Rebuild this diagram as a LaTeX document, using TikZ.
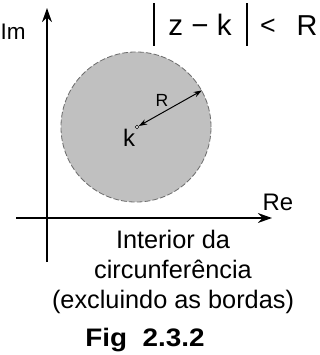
\documentclass[tikz,border=0pt]{standalone}
\usepackage{fontspec}
\usepackage{graphicx}
\setmainfont{Liberation Sans}
\usetikzlibrary{arrows.meta,positioning}
\definecolor{DiskFill}{HTML}{C0C0C0}
\definecolor{DiskEdge}{HTML}{6E6E6E}
\tikzset{
  axis/.style={-{Stealth[length=10pt,width=7pt]}, line width=1.4pt, draw=black},
  disk/.style={
    circle, fill=DiskFill, draw=DiskEdge, dash pattern=on 4pt off 1.6pt,
    line width=0.6pt, minimum size=3.75cm, inner sep=0pt
  },
  centre/.style={
    circle, draw=black, fill=white, line width=0.4pt,
    minimum size=2.4pt, inner sep=0pt
  },
  radius arrow/.style={{Stealth[length=6pt,width=4pt]}-{Stealth[length=6pt,width=4pt]}, line width=0.7pt},
  bar/.style={line width=1.1pt},
  lbl/.style={inner sep=0pt, font=\fontsize{16}{18}\selectfont}
}
\begin{document}
\begin{tikzpicture}[x=0.025cm,y=-0.025cm]
  \useasboundingbox (0,0) rectangle (320,355);
  % axes
  \coordinate (o_bot) at (47,262);
  \coordinate (im_end) at (47,8);
  \coordinate (re_start) at (16,218);
  \coordinate (re_end) at (272,218);
  \draw[axis] (o_bot) -- (im_end);
  \draw[axis] (re_start) -- (re_end);
  \node[lbl] (im) at (13,32) {Im};
  \node[lbl, font=\fontsize{17}{18}\selectfont] (re) at (278,202) {Re};
  % region
  \node[disk] (zone) at (136,127) {};
  \node[centre] (k) at (137,127) {};
  \draw[radius arrow] (k) -- (zone.29);
  \node[inner sep=0pt, font=\fontsize{12.5}{13}\selectfont] (rlab) at (162,100) {R};
  \node[inner sep=0pt, font=\fontsize{17}{18}\selectfont] (klab) at (129,138) {k};
  % |z-k| < R
  \node[inner sep=0pt, anchor=base, font=\fontsize{21}{22}\selectfont] (zk) at (200,35) {z − k};
  \node[inner sep=0pt, anchor=base, font=\fontsize{19}{20}\selectfont] (lt) at (268,34) {<};
  \node[inner sep=0pt, anchor=base, font=\fontsize{20.5}{22}\selectfont] (rr) at (307,35) {R};
  \coordinate (lbar_top) at (154,3);
  \coordinate (lbar_bot) at (154,46);
  \coordinate (rbar_top) at (247,3);
  \coordinate (rbar_bot) at (247,46);
  \draw[bar] (lbar_top) -- (lbar_bot);
  \draw[bar] (rbar_top) -- (rbar_bot);
  % caption
  \node[align=center, inner sep=0pt, font=\fontsize{18}{21.3}\selectfont] (note) at (173,272)
    {Interior da\\circunferência\\(excluindo as bordas)};
  \node[inner sep=0pt, anchor=base, font=\fontsize{18}{20}\selectfont\bfseries] (fig) at (145,346)
    {\scalebox{1.1}[1]{Fig~~2.3.2}};
\end{tikzpicture}
\end{document}
